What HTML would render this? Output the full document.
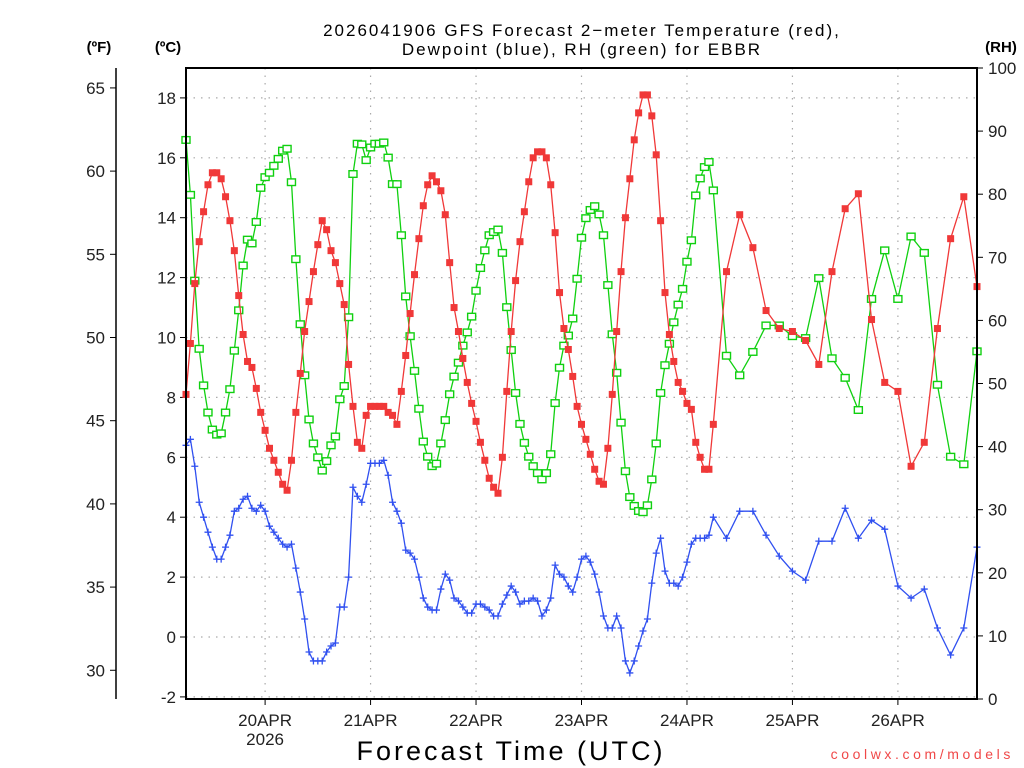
<!DOCTYPE html>
<html><head><meta charset="utf-8"><style>
html,body{margin:0;padding:0;background:#fff;}
svg{display:block;font-family:"Liberation Sans","DejaVu Sans",sans-serif;}
</style></head><body>
<svg id="chart" width="1024" height="768" viewBox="0 0 1024 768" xmlns="http://www.w3.org/2000/svg">
<rect width="1024" height="768" fill="#fff"/>
<g font-size="17" fill="#000" text-anchor="middle">
<text x="582" y="36" letter-spacing="2">2026041906 GFS Forecast 2−meter Temperature (red),</text>
<text x="582" y="55" letter-spacing="2">Dewpoint (blue), RH (green) for EBBR</text>
</g>
<text x="99" y="52" font-size="15" font-weight="bold" text-anchor="middle">(ºF)</text>
<text x="168" y="52" font-size="15" font-weight="bold" text-anchor="middle">(ºC)</text>
<text x="1001" y="52" font-size="15" font-weight="bold" text-anchor="middle">(RH)</text>
<g id="grid"></g>
<g id="axes"></g>
<g id="series"></g>
<rect x="186" y="68" width="791" height="631" fill="none" stroke="#000" stroke-width="2"/>
<text x="511" y="760" font-size="27" text-anchor="middle" letter-spacing="3">Forecast Time (UTC)</text>
<text x="1014" y="759" font-size="14" fill="#f04848" text-anchor="end" letter-spacing="3.6">coolwx.com/models</text>
</svg>
<script>
const tempC=[8.1,9.8,11.8,13.2,14.2,15.1,15.5,15.5,15.3,14.7,13.9,12.9,11.4,10.1,9.2,9.0,8.3,7.5,6.9,6.3,5.9,5.5,5.1,4.9,5.9,7.5,8.8,10.2,11.2,12.2,13.1,13.9,13.6,12.9,12.5,11.8,11.1,9.1,7.7,6.5,6.3,7.4,7.7,7.7,7.7,7.7,7.5,7.4,7.1,8.2,9.4,10.8,12.1,13.3,14.4,15.1,15.4,15.2,14.9,14.1,12.5,11.0,10.2,9.3,8.5,7.8,7.2,6.5,5.9,5.3,5.0,4.8,6.0,8.2,10.2,11.9,13.2,14.2,15.2,16.0,16.2,16.2,16.0,15.1,13.5,11.5,10.3,9.6,8.7,7.7,7.1,6.6,6.1,5.6,5.2,5.1,6.3,8.1,10.2,12.2,14.0,15.3,16.6,17.5,18.1,18.1,17.4,16.1,13.9,11.5,10.1,9.2,8.5,8.2,7.8,7.6,6.5,6.0,5.6,5.6,7.1,12.2,14.1,13.0,10.9,10.3,10.2,9.9,9.1,12.2,14.3,14.8,10.6,8.5,8.2,5.7,6.5,10.3,13.3,14.7,11.7];
const dewC=[6.4,6.6,5.7,4.5,4.0,3.5,3.0,2.6,2.6,3.0,3.4,4.2,4.3,4.6,4.7,4.3,4.2,4.4,4.2,3.7,3.5,3.3,3.1,3.0,3.1,2.3,1.5,0.6,-0.5,-0.8,-0.8,-0.8,-0.5,-0.3,-0.2,1.0,1.0,2.0,5.0,4.7,4.5,5.1,5.8,5.8,5.8,5.9,5.4,4.5,4.2,3.8,2.9,2.8,2.6,2.0,1.3,1.0,0.9,0.9,1.6,2.1,1.9,1.3,1.2,1.0,0.8,0.8,1.1,1.1,1.0,0.9,0.7,0.7,1.1,1.4,1.7,1.5,1.1,1.2,1.2,1.3,1.2,0.7,0.9,1.3,2.4,2.1,2.0,1.7,1.5,2.0,2.6,2.7,2.5,2.1,1.5,0.7,0.3,0.3,0.7,0.3,-0.8,-1.2,-0.8,-0.3,0.2,0.6,1.8,2.8,3.3,2.2,1.8,1.8,1.7,2.0,2.5,3.1,3.3,3.3,3.3,3.4,4.0,3.3,4.2,4.2,3.4,2.7,2.2,1.9,3.2,3.2,4.3,3.3,3.9,3.6,1.7,1.3,1.6,0.3,-0.6,0.3,3.0];
const rhPct=[88.6,79.9,66.3,55.5,49.7,45.4,42.7,41.9,42.1,45.4,49.1,55.2,61.6,68.7,72.8,72.2,75.6,81.0,82.7,83.4,84.5,85.6,86.9,87.2,81.9,69.7,59.4,51.3,44.3,40.5,38.3,36.2,37.7,40.2,41.6,47.5,49.6,60.5,83.2,88.0,87.9,85.4,87.4,88.0,88.0,88.2,85.8,81.6,81.6,73.5,63.8,57.5,52.0,46.0,40.8,38.4,36.9,37.3,40.5,44.2,48.3,51.1,53.3,56.0,58.1,60.6,64.7,68.3,71.1,73.5,74.0,74.4,70.7,62.1,55.3,48.5,43.6,40.6,38.4,36.9,35.8,34.8,35.8,38.8,46.9,52.5,56.0,57.6,60.3,66.6,73.1,76.2,77.5,78.1,76.8,73.5,65.6,57.8,51.7,43.8,36.1,32.0,30.6,29.8,29.6,30.7,34.8,40.5,48.5,52.9,56.3,59.7,62.5,65.0,69.3,72.7,79.8,82.5,84.3,85.1,80.6,54.4,51.3,55.0,59.2,59.2,57.5,57.2,66.7,54.0,50.9,45.8,63.4,71.1,63.4,73.3,70.7,49.8,38.4,37.2,55.1];
const dayLabels=["20APR","21APR","22APR","23APR","24APR","25APR","26APR"];
const celsiusTicks=[-2,0,2,4,6,8,10,12,14,16,18];
const fahrenheitTicks=[30,35,40,45,50,55,60,65];
const rhTicks=[0,10,20,30,40,50,60,70,80,90,100];

const hours=[];
for(let h=0;h<=120;h++)hours.push(h);
for(let h=123;h<=180;h+=3)hours.push(h);

const NS="http://www.w3.org/2000/svg";
const X0=186,X1=977,Y0=68,Y1=699;
const xs=h=>X0+(h/180)*(X1-X0);
const yC=c=>637-c*29.95;
const yF=f=>yC((f-32)*5/9);
const yRH=r=>Y1-r/100*(Y1-Y0);
function mk(tag,attrs,parent){const e=document.createElementNS(NS,tag);for(const k in attrs)e.setAttribute(k,attrs[k]);parent.appendChild(e);return e;}
const grid=document.getElementById('grid'),axes=document.getElementById('axes'),series=document.getElementById('series');

celsiusTicks.forEach(c=>{
 const y=yC(c);
 const g=mk('line',{x1:X0,x2:X1,y1:y,y2:y,stroke:'#aaa','stroke-width':1.2,'stroke-dasharray':'1.5 6'},grid);
 
 
 const t=mk('line',{x1:X0-6,x2:X0,y1:y,y2:y,stroke:'#000'},axes);
 
 
 const l=mk('text',{x:X0-10,y:y+6,'font-size':17,'text-anchor':'end',fill:'#222'},axes);
 l.textContent=c;
 
 
});
const fa=mk('line',{x1:116,x2:116,y1:Y0,y2:Y1,stroke:'#000','stroke-width':1.5},axes);


fahrenheitTicks.forEach(f=>{
 const y=yF(f);
 const t=mk('line',{x1:110,x2:116,y1:y,y2:y,stroke:'#000'},axes);
 
 
 const l=mk('text',{x:105,y:y+6,'font-size':17,'text-anchor':'end',fill:'#222'},axes);
 l.textContent=f;
 
 
});
rhTicks.forEach(r=>{
 const y=yRH(r);
 const t=mk('line',{x1:X1,x2:X1+6,y1:y,y2:y,stroke:'#000'},axes);
 
 
 const l=mk('text',{x:X1+11,y:y+6,'font-size':17,'text-anchor':'start',fill:'#222'},axes);
 l.textContent=r;
 
 
});
dayLabels.forEach((d,i)=>{
 const x=xs(18+24*i);
 const g=mk('line',{x1:x,x2:x,y1:Y0,y2:Y1,stroke:'#aaa','stroke-width':1.2,'stroke-dasharray':'1.5 6'},grid);
 
 
 const t=mk('line',{x1:x,x2:x,y1:Y1,y2:Y1+6,stroke:'#000'},axes);
 
 
 const l=mk('text',{x:x,y:726,'font-size':17,'text-anchor':'middle',fill:'#222'},axes);
 l.textContent=d;
 
 
});
const yr=mk('text',{x:xs(18),y:745,'font-size':17,'text-anchor':'middle',fill:'#222'},axes);
yr.textContent='2026';



function drawSeries(vals,yf,color,kind,name){
 const g=mk('g',{},series);
 
 
 const pts=vals.map((v,i)=>xs(hours[i]).toFixed(1)+','+yf(v).toFixed(1)).join(' ');
 const pl=mk('polyline',{points:pts,fill:'none',stroke:color,'stroke-width':1.3},g);
 
 
 vals.forEach((v,i)=>{
  const x=xs(hours[i]),y=yf(v);let m;
  if(kind==='fill'){m=mk('rect',{x:x-3.5,y:y-3.5,width:7,height:7,fill:color},g);}
  else if(kind==='hollow'){m=mk('rect',{x:x-4,y:y-3.3,width:8,height:6.6,fill:'#fff',stroke:color,'stroke-width':1.4},g);}
  else{m=mk('path',{d:`M${x-3.5},${y}H${x+3.5}M${x},${y-3.5}V${y+3.5}`,stroke:color,'stroke-width':1.3},g);}
  
  
 });
}
drawSeries(rhPct,yRH,'#10d010','hollow','rh');
drawSeries(tempC,yC,'#f03838','fill','temperature');
drawSeries(dewC,yC,'#3050f0','plus','dewpoint');
</script>
</body></html>
